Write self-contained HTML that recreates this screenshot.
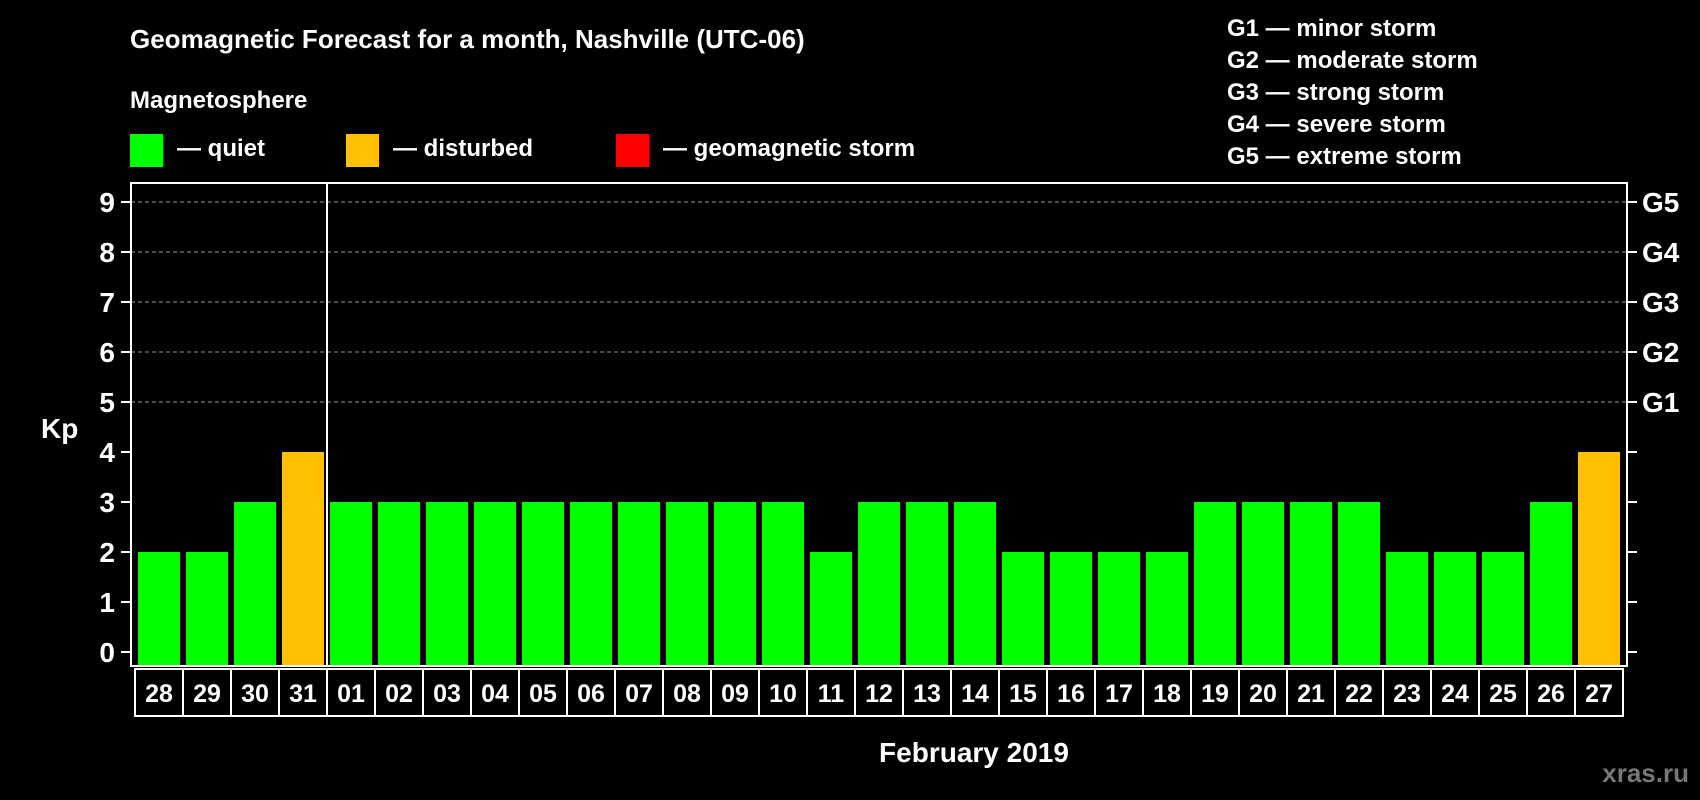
<!DOCTYPE html>
<html><head><meta charset="utf-8"><style>
html,body{margin:0;padding:0;background:#000;}
svg{display:block;font-family:"Liberation Sans",Arial,sans-serif;font-weight:bold;}
</style></head><body>
<svg id="chart" width="1700" height="800" viewBox="0 0 1700 800">
<rect x="0" y="0" width="1700" height="800" fill="#000"/>
<text x="130" y="48" fill="#fff" font-size="26">Geomagnetic Forecast for a month, Nashville (UTC-06)</text>
<text x="130" y="108" fill="#fff" font-size="24">Magnetosphere</text>
<g><rect x="130" y="134" width="33" height="33" fill="#00ff00"/><text x="177" y="156" fill="#fff" font-size="24">— quiet</text></g>
<g><rect x="346" y="134" width="33" height="33" fill="#ffc000"/><text x="393" y="156" fill="#fff" font-size="24">— disturbed</text></g>
<g><rect x="616" y="134" width="33" height="33" fill="#ff0000"/><text x="663" y="156" fill="#fff" font-size="24">— geomagnetic storm</text></g>
<g fill="#fff" font-size="24">
<text x="1227" y="36">G1 — minor storm</text>
<text x="1227" y="68">G2 — moderate storm</text>
<text x="1227" y="100">G3 — strong storm</text>
<text x="1227" y="132">G4 — severe storm</text>
<text x="1227" y="164">G5 — extreme storm</text>
</g>
<text x="41" y="438" fill="#fff" font-size="28">Kp</text>
<text x="974" y="762" fill="#fff" font-size="28" text-anchor="middle">February 2019</text>
<text x="1689" y="782" fill="#777" font-size="26" text-anchor="end">xras.ru</text>
<g id="plot"></g>
</svg>
<script>
const categories = ["28","29","30","31","01","02","03","04","05","06","07","08","09","10","11","12","13","14","15","16","17","18","19","20","21","22","23","24","25","26","27"];
const kpValues = [2,2,3,4,3,3,3,3,3,3,3,3,3,3,2,3,3,3,2,2,2,2,3,3,3,3,2,2,2,3,4];
const yTicks = [0,1,2,3,4,5,6,7,8,9];
const gLabels = ["","","","","","G1","G2","G3","G4","G5"];

const NS = "http://www.w3.org/2000/svg";
const plot = document.getElementById('plot');
const L = 131, R = 1627, T = 183, B = 666;
const x0 = 138, pitch = 48, bw = 42;
function yScale(v){ return 652 - v * 50; }
function xScale(i){ return x0 + i * pitch; }
function mk(tag, attrs){ const e = document.createElementNS(NS, tag); for (const k in attrs) e.setAttribute(k, attrs[k]); plot.appendChild(e); return e; }
function color(v){ return v >= 5 ? "#ff0000" : (v >= 4 ? "#ffc000" : "#00ff00"); }

yTicks.forEach((t, i) => {
  const y = yScale(t);
  if (t >= 5) {
    const g = mk('line', {x1: L, x2: R, y1: y, y2: y, stroke: '#999', 'stroke-width': 1, 'stroke-dasharray': '4,3'});
    
    
  }
  const lt = mk('line', {x1: L - 10, x2: L, y1: y, y2: y, stroke: '#fff', 'stroke-width': 2});
  
  
  const rt = mk('line', {x1: R, x2: R + 10, y1: y, y2: y, stroke: '#fff', 'stroke-width': 2});
  
  
  const tl = mk('text', {x: 115, y: y + 10, fill: '#fff', 'font-size': 28, 'text-anchor': 'end'});
  tl.textContent = t;
  
  
  if (gLabels[i]) {
    const gl = mk('text', {x: 1642, y: y + 10, fill: '#fff', 'font-size': 28});
    gl.textContent = gLabels[i];
    
    
  }
});

kpValues.forEach((v, i) => {
  const b = mk('rect', {x: xScale(i), y: yScale(v), width: bw, height: B - yScale(v) - 1, fill: color(v)});
  
  
});

const frame = mk('rect', {x: L, y: T, width: R - L, height: B - T, fill: 'none', stroke: '#fff', 'stroke-width': 2});


const sep = mk('line', {x1: xScale(4) - 3, x2: xScale(4) - 3, y1: T, y2: B, stroke: '#fff', 'stroke-width': 2});



categories.forEach((c, i) => {
  const cx = xScale(i) - 3;
  const cell = mk('rect', {x: cx, y: 669, width: pitch, height: 47, fill: '#000', stroke: '#fff', 'stroke-width': 2});
  
  
  const t = mk('text', {x: cx + pitch / 2, y: 702, fill: '#fff', 'font-size': 25, 'text-anchor': 'middle'});
  t.textContent = c;
  
  
});
</script>
</body></html>
